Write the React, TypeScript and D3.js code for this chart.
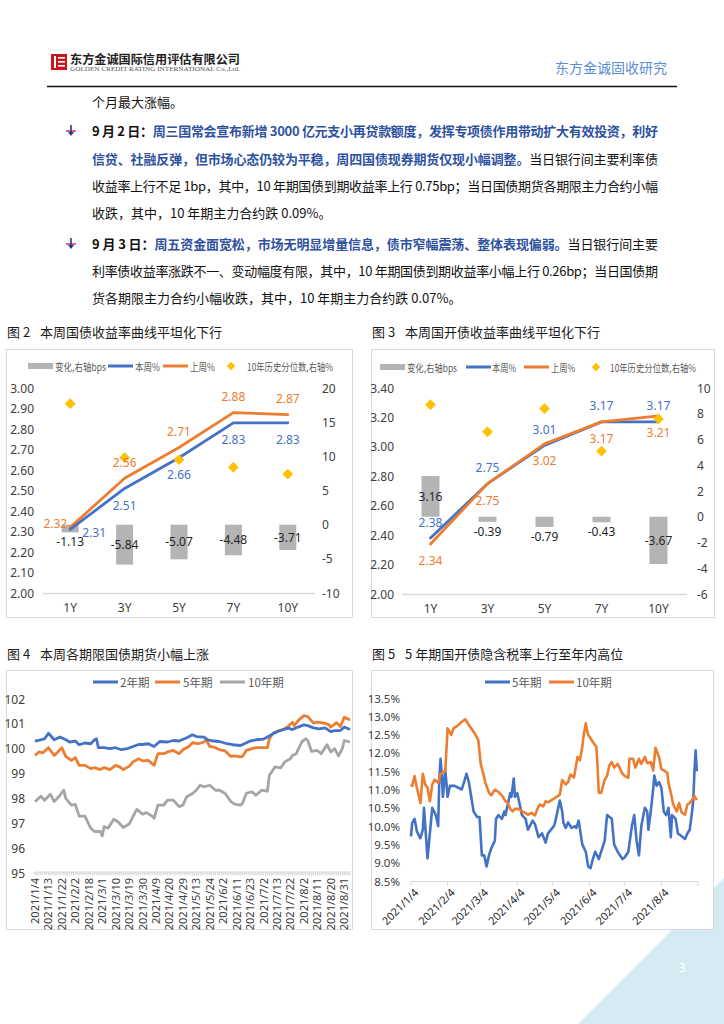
import React from "react";
import * as d3 from "d3";

const CJK = '"Noto Sans CJK SC", "Noto Sans", sans-serif';
const NUM = '"Noto Sans", "Noto Sans CJK SC", sans-serif';
const BLUE = "#4472c4";
const ORANGE = "#ed7d31";
const GRAY = "#a5a5a5";
const BARGRAY = "#b4b4b4";
const GOLD = "#ffc000";
const AXIS = "#d9d9d9";

// ---------- Figure 2 / 3 data ----------
const tenors = ["1Y", "3Y", "5Y", "7Y", "10Y"];
const govChange = [-1.13, -5.84, -5.07, -4.48, -3.71];
const govThisWeek = [2.31, 2.51, 2.66, 2.83, 2.83];
const govLastWeek = [2.32, 2.56, 2.71, 2.88, 2.87];
const govPercentile = [17.7, 9.8, 9.5, 8.4, 7.4];

const cdbChange = [3.16, -0.39, -0.79, -0.43, -3.67];
const cdbThisWeek = [2.38, 2.75, 3.01, 3.17, 3.17];
const cdbLastWeek = [2.34, 2.75, 3.02, 3.17, 3.21];
const cdbPercentile = [8.7, 6.6, 8.4, 5.1, 7.6];

const curveLegend = ["变化,右轴bps", "本周%", "上周%", "10年历史分位数,右轴%"];

// ---------- Figure 4 data (trading-day index, price) ----------
const futTickLabels = ["2021/1/4", "2021/1/13", "2021/1/22", "2021/2/2", "2021/2/18", "2021/3/1", "2021/3/10", "2021/3/19", "2021/3/30", "2021/4/9", "2021/4/20", "2021/4/29", "2021/5/13", "2021/5/24", "2021/6/2", "2021/6/11", "2021/6/23", "2021/7/2", "2021/7/13", "2021/7/22", "2021/8/2", "2021/8/11", "2021/8/20", "2021/8/31"];
const futLabelStep = 7;
const futDayCount = 165;
const futSeriesNames = ["2年期", "5年期", "10年期"];
const fut2y: [number, number][] = [[0,100.31],[3,100.36],[5,100.4],[7,100.62],[10,100.36],[13,100.47],[16,100.36],[18,100.27],[21,100.31],[23,100.16],[26,100.23],[29,100.2],[31,100.36],[32,100.4],[33,100.04],[36,100.04],[39,100.0],[42,100.04],[45,99.96],[48,100.0],[51,100.09],[54,100.17],[56,100.17],[59,100.2],[62,100.09],[65,100.29],[69,100.27],[72,100.33],[75,100.31],[79,100.44],[82,100.56],[84,100.49],[88,100.47],[90,100.36],[93,100.31],[96,100.29],[100,100.2],[103,100.16],[107,100.13],[109,100.2],[112,100.31],[115,100.36],[119,100.39],[121,100.47],[124,100.6],[127,100.71],[129,100.77],[132,100.83],[134,100.77],[137,100.87],[140,100.96],[142,100.93],[145,100.84],[148,100.8],[151,100.84],[154,100.69],[156,100.73],[159,100.73],[161,100.87],[164,100.77]];
const fut5y: [number, number][] = [[0,99.73],[2,99.87],[4,99.83],[7,100.04],[10,99.73],[11,99.8],[14,100.04],[16,99.69],[19,99.53],[21,99.64],[23,99.33],[26,99.33],[29,99.2],[31,99.24],[34,99.16],[36,99.24],[39,99.16],[42,99.33],[44,99.27],[46,99.16],[49,99.29],[51,99.47],[54,99.6],[56,99.51],[59,99.53],[62,99.33],[64,99.8],[67,99.8],[69,99.87],[72,99.93],[75,99.8],[77,99.96],[80,100.09],[82,100.24],[85,100.2],[88,100.27],[89,100.37],[91,100.09],[94,100.04],[96,99.96],[99,99.91],[102,99.69],[104,99.71],[107,99.67],[108,99.69],[110,99.93],[113,100.0],[115,100.04],[118,100.04],[121,100.04],[122,100.4],[124,100.63],[127,100.73],[129,100.76],[132,100.91],[134,101.07],[135,100.93],[137,101.13],[140,101.33],[142,101.29],[145,101.03],[147,101.07],[150,101.04],[153,100.97],[154,100.87],[157,101.05],[159,100.89],[161,101.27],[164,101.16]];
const fut10y: [number, number][] = [[0,97.87],[3,98.09],[5,97.93],[8,98.17],[10,97.87],[13,98.13],[15,98.33],[16,98.0],[19,97.73],[21,97.76],[23,97.29],[26,97.29],[29,96.8],[31,96.67],[34,96.67],[35,96.49],[36,96.87],[38,96.8],[41,97.16],[43,97.07],[46,96.83],[49,96.97],[51,97.27],[53,97.56],[56,97.37],[58,97.43],[61,97.29],[62,97.2],[64,97.73],[67,97.73],[69,97.93],[72,97.93],[75,97.67],[77,97.73],[79,98.07],[82,98.2],[84,98.33],[86,98.53],[88,98.47],[91,98.53],[94,98.33],[96,98.33],[99,98.2],[102,97.87],[104,97.77],[107,97.73],[108,97.8],[110,98.2],[113,98.27],[115,98.13],[118,98.33],[121,98.29],[122,98.93],[125,99.27],[128,99.23],[130,99.47],[133,99.6],[134,99.73],[136,99.8],[139,100.29],[141,100.4],[142,100.33],[144,99.89],[147,99.93],[149,99.8],[152,100.16],[154,99.87],[156,100.0],[158,99.71],[160,100.0],[161,100.33],[164,100.27]];
const futYTicks = [95, 96, 97, 98, 99, 100, 101, 102];

// ---------- Figure 5 data (date, implied tax rate %) ----------
const taxSeriesNames = ["5年期", "10年期"];
const taxTickDates = ["2021-01-04", "2021-02-04", "2021-03-04", "2021-04-04", "2021-05-04", "2021-06-04", "2021-07-04", "2021-08-04"];
const taxAxisEnd = "2021-09-04";
const taxYTicks = [8.5, 9.0, 9.5, 10.0, 10.5, 11.0, 11.5, 12.0, 12.5, 13.0, 13.5];
const tax5y: [string, number][] = [["2021-01-04",9.72],["2021-01-05",10.08],["2021-01-07",10.2],["2021-01-09",9.86],["2021-01-11",9.72],["2021-01-12",9.67],["2021-01-14",9.9],["2021-01-15",10.5],["2021-01-18",9.12],["2021-01-22",10.5],["2021-01-25",10.3],["2021-01-27",10.0],["2021-01-28",11.3],["2021-01-29",11.84],["2021-01-30",11.4],["2021-01-31",10.8],["2021-02-02",11.55],["2021-02-04",10.8],["2021-02-06",11.1],["2021-02-10",11.1],["2021-02-16",11.0],["2021-02-20",11.43],["2021-02-22",11.2],["2021-02-26",10.4],["2021-03-01",10.25],["2021-03-03",10.25],["2021-03-05",9.2],["2021-03-07",9.2],["2021-03-09",8.9],["2021-03-11",9.2],["2021-03-13",9.4],["2021-03-16",9.6],["2021-03-17",10.2],["2021-03-19",10.3],["2021-03-22",10.2],["2021-03-24",10.4],["2021-03-25",10.3],["2021-03-27",10.6],["2021-03-29",10.9],["2021-03-30",10.8],["2021-04-01",11.3],["2021-04-02",10.8],["2021-04-04",10.9],["2021-04-08",10.3],["2021-04-11",10.2],["2021-04-13",9.9],["2021-04-17",10.15],["2021-04-19",10.05],["2021-04-22",9.7],["2021-04-25",9.8],["2021-04-28",9.55],["2021-04-30",9.8],["2021-05-05",10.0],["2021-05-06",10.1],["2021-05-10",10.7],["2021-05-12",10.4],["2021-05-13",10.1],["2021-05-15",9.95],["2021-05-17",10.1],["2021-05-20",9.95],["2021-05-23",10.0],["2021-05-24",9.95],["2021-05-26",10.15],["2021-05-29",9.5],["2021-06-01",9.3],["2021-06-03",8.9],["2021-06-05",8.85],["2021-06-07",9.1],["2021-06-09",9.3],["2021-06-12",9.1],["2021-06-14",9.3],["2021-06-17",9.6],["2021-06-19",10.3],["2021-06-23",10.2],["2021-06-25",9.5],["2021-06-28",9.3],["2021-07-02",9.1],["2021-07-04",9.15],["2021-07-07",9.3],["2021-07-10",10.0],["2021-07-12",10.3],["2021-07-14",9.6],["2021-07-16",9.2],["2021-07-18",10.0],["2021-07-21",10.5],["2021-07-23",10.4],["2021-07-24",9.9],["2021-07-26",10.4],["2021-07-28",11.0],["2021-07-29",11.38],["2021-07-31",11.1],["2021-08-02",11.2],["2021-08-04",11.05],["2021-08-06",10.4],["2021-08-08",10.3],["2021-08-10",10.5],["2021-08-12",9.7],["2021-08-13",10.3],["2021-08-16",10.2],["2021-08-18",9.8],["2021-08-20",9.75],["2021-08-22",9.7],["2021-08-24",9.65],["2021-08-26",9.8],["2021-08-28",9.9],["2021-08-30",10.4],["2021-08-31",10.7],["2021-09-01",11.5],["2021-09-02",12.07],["2021-09-03",11.5]];
const tax10y: [string, number][] = [["2021-01-04",11.14],["2021-01-05",11.1],["2021-01-07",11.37],["2021-01-09",11.05],["2021-01-11",10.77],["2021-01-12",10.63],["2021-01-14",11.43],["2021-01-16",11.14],["2021-01-18",11.05],["2021-01-20",10.68],["2021-01-22",11.14],["2021-01-24",11.27],["2021-01-27",11.18],["2021-01-29",11.43],["2021-01-31",11.46],["2021-02-02",11.5],["2021-02-04",12.67],["2021-02-05",12.62],["2021-02-07",12.49],["2021-02-09",12.67],["2021-02-13",12.76],["2021-02-16",12.85],["2021-02-19",12.92],["2021-02-22",12.76],["2021-02-24",12.67],["2021-02-27",12.53],["2021-03-02",12.35],["2021-03-04",11.7],["2021-03-06",11.46],["2021-03-08",11.18],["2021-03-11",10.91],["2021-03-13",10.84],["2021-03-16",11.0],["2021-03-19",10.93],["2021-03-22",10.84],["2021-03-25",10.68],["2021-03-27",10.63],["2021-03-29",10.47],["2021-03-31",10.4],["2021-04-02",10.47],["2021-04-05",10.47],["2021-04-08",10.4],["2021-04-11",10.36],["2021-04-13",10.31],["2021-04-16",10.36],["2021-04-19",10.29],["2021-04-21",10.47],["2021-04-23",10.59],["2021-04-26",10.54],["2021-04-28",10.68],["2021-04-30",10.65],["2021-05-03",10.71],["2021-05-06",10.77],["2021-05-10",10.86],["2021-05-12",11.26],["2021-05-15",11.14],["2021-05-17",11.2],["2021-05-19",11.41],["2021-05-22",11.33],["2021-05-23",11.52],["2021-05-25",11.89],["2021-05-27",11.8],["2021-05-29",12.16],["2021-05-30",12.44],["2021-06-01",12.81],["2021-06-02",12.62],["2021-06-03",12.5],["2021-06-07",12.3],["2021-06-10",12.16],["2021-06-11",11.6],["2021-06-12",10.91],["2021-06-14",10.91],["2021-06-17",11.27],["2021-06-19",11.37],["2021-06-21",11.66],["2021-06-23",11.75],["2021-06-25",11.6],["2021-06-28",11.7],["2021-07-02",11.43],["2021-07-04",11.37],["2021-07-07",11.32],["2021-07-08",11.84],["2021-07-11",11.84],["2021-07-13",11.6],["2021-07-16",11.84],["2021-07-18",11.7],["2021-07-21",11.89],["2021-07-23",11.72],["2021-07-26",11.75],["2021-07-28",11.52],["2021-07-30",12.14],["2021-08-02",11.89],["2021-08-04",11.56],["2021-08-06",11.52],["2021-08-09",11.46],["2021-08-10",11.18],["2021-08-12",10.91],["2021-08-14",10.59],["2021-08-17",10.4],["2021-08-19",10.63],["2021-08-21",10.38],["2021-08-24",10.31],["2021-08-26",10.59],["2021-08-28",10.63],["2021-08-31",10.77],["2021-09-01",10.82],["2021-09-03",10.71]];

// ---------- Text ----------
type Seg = { t: string; s: "n" | "b" | "blue" };
const bodyLines: { segs: Seg[]; justify: boolean; bullet?: boolean }[] = [
  { segs: [{ t: "9 月 2 日：", s: "b" }, { t: "周三国常会宣布新增 3000 亿元支小再贷款额度，发挥专项债作用带动扩大有效投资，利好", s: "blue" }], justify: true, bullet: true },
  { segs: [{ t: "信贷、社融反弹，但市场心态仍较为平稳，周四国债现券期货仅现小幅调整。", s: "blue" }, { t: "当日银行间主要利率债", s: "n" }], justify: true },
  { segs: [{ t: "收益率上行不足 1bp，其中，10 年期国债到期收益率上行 0.75bp；当日国债期货各期限主力合约小幅", s: "n" }], justify: true },
  { segs: [{ t: "收跌，其中，10 年期主力合约跌 0.09%。", s: "n" }], justify: false },
  { segs: [{ t: "9 月 3 日：", s: "b" }, { t: "周五资金面宽松，市场无明显增量信息，债市窄幅震荡、整体表现偏弱。", s: "blue" }, { t: "当日银行间主要", s: "n" }], justify: true, bullet: true },
  { segs: [{ t: "利率债收益率涨跌不一、变动幅度有限，其中，10 年期国债到期收益率小幅上行 0.26bp；当日国债期", s: "n" }], justify: true },
  { segs: [{ t: "货各期限主力合约小幅收跌，其中，10 年期主力合约跌 0.07%。", s: "n" }], justify: false },
];
const bodyLineY = [136, 164, 191, 218, 249, 276, 303];

function Header() {
  return (
    <g>
      <rect x={51} y={54} width={16} height={16} fill="#c8161d" />
      <rect x={54} y={56} width={2} height={12} fill="#fff" />
      <rect x={58} y={57} width={7} height={1.6} fill="#fff" />
      <rect x={58} y={61} width={7} height={1.6} fill="#fff" />
      <rect x={58} y={65} width={7} height={1.6} fill="#fff" />
      <text x={70} y={64} fontFamily={CJK} fontSize={12} fontWeight={700} fill="#222" textLength={170} lengthAdjust="spacingAndGlyphs">东方金诚国际信用评估有限公司</text>
      <text x={70} y={70.5} fontFamily="'Liberation Serif', serif" fontSize={5.5} fill="#555" textLength={170} lengthAdjust="spacingAndGlyphs">GOLDEN CREDIT RATING INTERNATIONAL Co.,Ltd.</text>
      <text x={667} y={73} textAnchor="end" fontFamily={CJK} fontSize={14} fill="#5b8ed6">东方金诚固收研究</text>
      <line x1={47} x2={677} y1={86.5} y2={86.5} stroke="#111" strokeWidth={1.5} />
    </g>
  );
}

function Bullet({ x, y }: { x: number; y: number }) {
  return (
    <g>
      <line x1={x} x2={x + 10} y1={y} y2={y} stroke="#e8608c" strokeWidth={2} />
      <line x1={x + 5} x2={x + 5} y1={y - 6} y2={y + 2} stroke="#1f3c88" strokeWidth={1.6} />
      <path d={`M${x + 2},${y + 1}L${x + 8},${y + 1}L${x + 5},${y + 5}Z`} fill="#1f3c88" />
    </g>
  );
}

function Body() {
  return (
    <g fontFamily={CJK} fontSize={13}>
      <text x={92} y={107} fill="#111">个月最大涨幅。</text>
      {bodyLines.map((ln, i) => (
        <g key={i}>
          {ln.bullet && <Bullet x={66} y={bodyLineY[i] - 5} />}
          <text x={92} y={bodyLineY[i]} {...(ln.justify ? { textLength: 566, lengthAdjust: "spacing" } : {})}>
            {ln.segs.map((s, j) => (
              <tspan key={j} fill={s.s === "blue" ? "#2f52a0" : "#111"} fontWeight={s.s === "n" ? 400 : 700}>{s.t}</tspan>
            ))}
          </text>
        </g>
      ))}
    </g>
  );
}

function FigTitle({ x, y, num, title }: { x: number; y: number; num: string; title: string }) {
  return (
    <g fontFamily={CJK} fontSize={13} fill="#1a1a1a">
      <text x={x} y={y}>{num}</text>
      <text x={x + 33} y={y}>{title}</text>
    </g>
  );
}

type LabelPos = "above" | "below" | "left" | "right";
interface CurveCfg {
  box: [number, number, number, number];
  x0: number; x1: number; yTop: number; yBot: number;
  lDomain: [number, number]; lTicks: number[];
  rDomain: [number, number]; rTicks: number[];
  leftLabelX: number; rightLabelX: number; barW: number;
  change: number[]; thisWeek: number[]; lastWeek: number[]; pct: number[];
  thisPos: LabelPos[]; lastPos: LabelPos[];
  legendY: number; legendX: { sw: number; tx: number; w: number }[];
  lastOnTop: boolean;
}

function CurveChart({ c }: { c: CurveCfg }) {
  const x = d3.scaleBand<string>().domain(tenors).range([c.x0, c.x1]);
  const cx = (i: number) => (x(tenors[i]) as number) + x.bandwidth() / 2;
  const yL = d3.scaleLinear().domain(c.lDomain).range([c.yBot, c.yTop]);
  const yR = d3.scaleLinear().domain(c.rDomain).range([c.yBot, c.yTop]);
  const line = d3.line<number>().x((_, i) => cx(i)).y((v) => yL(v));
  const label = (v: number, i: number, pos: LabelPos, color: string) => {
    const px = cx(i), py = yL(v);
    let tx = px, ty = py, anchor = "middle";
    if (pos === "above") ty = py - 16;
    if (pos === "below") ty = py + 17;
    if (pos === "left") { tx = px - 3; ty = py - 4; anchor = "end"; }
    if (pos === "right") { tx = px + 12; ty = py + 3; anchor = "start"; }
    return <text key={`${color}${i}`} x={tx} y={ty} textAnchor={anchor} dominantBaseline="central" fill={color} fontSize={12}>{v.toFixed(2)}</text>;
  };
  const lines = [
    { d: c.thisWeek, color: BLUE },
    { d: c.lastWeek, color: ORANGE },
  ];
  if (!c.lastOnTop) lines.reverse();
  const [bx, by, bw, bh] = c.box;
  return (
    <g fontFamily={NUM}>
      <rect x={bx + 0.5} y={by + 0.5} width={bw} height={bh} fill="#fff" stroke={AXIS} />
      {/* legend */}
      <g fontFamily={CJK} fontSize={10} fill="#595959">
        <rect x={c.legendX[0].sw} y={c.legendY - 3} width={25} height={6} fill={BARGRAY} />
        <line x1={c.legendX[1].sw} x2={c.legendX[1].sw + 25} y1={c.legendY} y2={c.legendY} stroke={BLUE} strokeWidth={3} />
        <line x1={c.legendX[2].sw} x2={c.legendX[2].sw + 25} y1={c.legendY} y2={c.legendY} stroke={ORANGE} strokeWidth={3} />
        <rect x={c.legendX[3].sw - 3} y={c.legendY - 3} width={6} height={6} fill={GOLD} transform={`rotate(45 ${c.legendX[3].sw} ${c.legendY})`} />
        {curveLegend.map((t, i) => (
          <text key={t} x={c.legendX[i].tx} y={c.legendY} dominantBaseline="central" textLength={c.legendX[i].w} lengthAdjust="spacingAndGlyphs">{t}</text>
        ))}
      </g>
      {/* axes */}
      <line x1={c.x0} x2={c.x1} y1={c.yBot + 0.5} y2={c.yBot + 0.5} stroke={AXIS} strokeWidth={1.5} />
      <g fontSize={12} fill="#404040">
        {c.lTicks.map((t) => (
          <text key={`l${t}`} x={c.leftLabelX} y={yL(t)} textAnchor="end" dominantBaseline="central">{t.toFixed(2)}</text>
        ))}
        {c.rTicks.map((t) => (
          <text key={`r${t}`} x={c.rightLabelX} y={yR(t)} dominantBaseline="central">{t}</text>
        ))}
        {tenors.map((t, i) => (
          <text key={t} x={cx(i)} y={c.yBot + 14} textAnchor="middle" dominantBaseline="central">{t}</text>
        ))}
      </g>
      {/* bars */}
      {c.change.map((v, i) => {
        const y0 = yR(0), y1 = yR(v);
        return <rect key={`b${i}`} x={cx(i) - c.barW / 2} y={Math.min(y0, y1)} width={c.barW} height={Math.abs(y1 - y0)} fill={BARGRAY} />;
      })}
      {/* lines */}
      {lines.map((l) => (
        <path key={l.color} d={line(l.d) as string} fill="none" stroke={l.color} strokeWidth={2.8} strokeLinejoin="round" strokeLinecap="round" />
      ))}
      {/* percentile diamonds */}
      {c.pct.map((v, i) => (
        <rect key={`p${i}`} x={cx(i) - 3.8} y={yR(v) - 3.8} width={7.6} height={7.6} fill={GOLD} transform={`rotate(45 ${cx(i)} ${yR(v)})`} />
      ))}
      {/* bar labels */}
      {c.change.map((v, i) => {
        const y0 = yR(0), y1 = yR(v);
        const h = Math.abs(y1 - y0);
        const ty = h > 14 ? (y0 + y1) / 2 : v < 0 ? y1 + 9.5 : y1 - 9.5;
        return <text key={`bl${i}`} x={cx(i)} y={ty} textAnchor="middle" dominantBaseline="central" fontSize={12} fill="#262626">{v.toFixed(2)}</text>;
      })}
      {c.thisWeek.map((v, i) => label(v, i, c.thisPos[i], BLUE))}
      {c.lastWeek.map((v, i) => label(v, i, c.lastPos[i], ORANGE))}
    </g>
  );
}

const govCfg: CurveCfg = {
  box: [6, 349, 346, 268],
  x0: 43, x1: 315, yTop: 388, yBot: 593,
  lDomain: [2.0, 3.0], lTicks: d3.range(0, 11).map((k) => 2 + k * 0.1),
  rDomain: [-10, 20], rTicks: [-10, -5, 0, 5, 10, 15, 20],
  leftLabelX: 34, rightLabelX: 322, barW: 17,
  change: govChange, thisWeek: govThisWeek, lastWeek: govLastWeek, pct: govPercentile,
  thisPos: ["right", "below", "below", "below", "below"],
  lastPos: ["left", "above", "above", "above", "above"],
  legendY: 366, legendX: [{ sw: 28, tx: 55, w: 51 }, { sw: 108, tx: 135, w: 25 }, { sw: 163, tx: 190, w: 25 }, { sw: 231, tx: 247, w: 86 }],
  lastOnTop: false,
};

const cdbCfg: CurveCfg = {
  box: [371, 349, 343, 268],
  x0: 402, x1: 687, yTop: 388, yBot: 594,
  lDomain: [2.0, 3.4], lTicks: d3.range(0, 8).map((k) => 2 + k * 0.2),
  rDomain: [-6, 10], rTicks: [-6, -4, -2, 0, 2, 4, 6, 8, 10],
  leftLabelX: 394, rightLabelX: 697, barW: 18,
  change: cdbChange, thisWeek: cdbThisWeek, lastWeek: cdbLastWeek, pct: cdbPercentile,
  thisPos: ["above", "above", "above", "above", "above"],
  lastPos: ["below", "below", "below", "below", "below"],
  legendY: 367, legendX: [{ sw: 380, tx: 407, w: 50 }, { sw: 466, tx: 492, w: 24 }, { sw: 524, tx: 551, w: 24 }, { sw: 596, tx: 610, w: 86 }],
  lastOnTop: true,
};

function FuturesChart() {
  const x = d3.scaleLinear().domain([0, futDayCount - 1]).range([35, 350]);
  const y = d3.scaleLinear().domain([95, 102]).range([873, 699]);
  const line = d3.line<[number, number]>().x((d) => x(d[0])).y((d) => y(d[1]));
  const series = [
    { d: fut2y, color: BLUE },
    { d: fut5y, color: ORANGE },
    { d: fut10y, color: GRAY },
  ];
  const legendX = [{ sw: 93, tx: 120 }, { sw: 155, tx: 183 }, { sw: 220, tx: 248 }];
  return (
    <g fontFamily={NUM}>
      <rect x={6.5} y={670.5} width={346} height={259} fill="#fff" stroke={AXIS} />
      <g fontFamily={CJK} fontSize={11.5} fill="#595959">
        {futSeriesNames.map((n, i) => (
          <g key={n}>
            <line x1={legendX[i].sw} x2={legendX[i].sw + 25} y1={682} y2={682} stroke={series[i].color} strokeWidth={3} />
            <text x={legendX[i].tx} y={682} dominantBaseline="central">{n}</text>
          </g>
        ))}
      </g>
      <g fontSize={12} fill="#404040">
        {futYTicks.map((t) => (
          <text key={t} x={25} y={y(t)} textAnchor="end" dominantBaseline="central">{t}</text>
        ))}
      </g>
      <line x1={33} x2={350} y1={873} y2={873} stroke={AXIS} strokeWidth={1} />
      {d3.range(futDayCount).map((i) => (
        <line key={i} x1={x(i)} x2={x(i)} y1={871} y2={875.5} stroke={AXIS} strokeWidth={1} />
      ))}
      <g fontSize={11} fill="#404040">
        {futTickLabels.map((t, k) => (
          <text key={t} transform={`translate(${x(k * futLabelStep) + 4},878) rotate(-90)`} textAnchor="end">{t}</text>
        ))}
      </g>
      {series.slice().reverse().map((s) => (
        <path key={s.color} d={line(s.d) as string} fill="none" stroke={s.color} strokeWidth={2.8} strokeLinejoin="round" />
      ))}
    </g>
  );
}

function TaxChart() {
  const parse = d3.timeParse("%Y-%m-%d");
  const x = d3.scaleTime().domain([parse(taxTickDates[0]) as Date, parse(taxAxisEnd) as Date]).range([411, 698]);
  const y = d3.scaleLinear().domain([8.5, 13.5]).range([881, 698]);
  const line = d3.line<[string, number]>().x((d) => x(parse(d[0]) as Date)).y((d) => y(d[1]));
  const fmt = d3.timeFormat("%Y/%-m/%-d");
  const series = [
    { d: tax5y, color: BLUE },
    { d: tax10y, color: ORANGE },
  ];
  const legendX = [{ sw: 485, tx: 512 }, { sw: 549, tx: 576 }];
  return (
    <g fontFamily={NUM}>
      <rect x={371.5} y={670.5} width={342} height={259} fill="#fff" stroke={AXIS} />
      <g fontFamily={CJK} fontSize={11.5} fill="#595959">
        {taxSeriesNames.map((n, i) => (
          <g key={n}>
            <line x1={legendX[i].sw} x2={legendX[i].sw + 25} y1={682} y2={682} stroke={series[i].color} strokeWidth={3} />
            <text x={legendX[i].tx} y={682} dominantBaseline="central">{n}</text>
          </g>
        ))}
      </g>
      <g fontSize={11.5} fill="#404040">
        {taxYTicks.map((t) => (
          <text key={t} x={400} y={y(t)} textAnchor="end" dominantBaseline="central">{t.toFixed(1) + "%"}</text>
        ))}
      </g>
      <line x1={411} x2={698} y1={881.5} y2={881.5} stroke={AXIS} strokeWidth={1.2} />
      {[...taxTickDates, taxAxisEnd].map((d) => (
        <line key={d} x1={x(parse(d) as Date)} x2={x(parse(d) as Date)} y1={881} y2={886} stroke={AXIS} />
      ))}
      <g fontSize={11} fill="#262626">
        {taxTickDates.map((d) => {
          const px = x(parse(d) as Date);
          return <text key={d} transform={`translate(${px + 5},890) rotate(-45)`} textAnchor="end" dominantBaseline="central">{fmt(parse(d) as Date)}</text>;
        })}
      </g>
      {series.map((s) => (
        <path key={s.color} d={line(s.d) as string} fill="none" stroke={s.color} strokeWidth={2.6} strokeLinejoin="round" />
      ))}
    </g>
  );
}

export default function App() {
  return (
    <div style={{ position: "absolute", left: 0, top: 0, width: 724, height: 1024 }}>
      <svg width={724} height={1024} style={{ display: "block" }}>
        <rect width={724} height={1024} fill="#fff" />
        <polygon points="724,878 724,1024 578,1024" fill="#d5eaf2" />
        <Header />
        <Body />
        <FigTitle x={7} y={337} num="图 2" title="本周国债收益率曲线平坦化下行" />
        <FigTitle x={372} y={337} num="图 3" title="本周国开债收益率曲线平坦化下行" />
        <FigTitle x={7} y={659} num="图 4" title="本周各期限国债期货小幅上涨" />
        <FigTitle x={372} y={659} num="图 5" title="5 年期国开债隐含税率上行至年内高位" />
        <CurveChart c={govCfg} />
        <CurveChart c={cdbCfg} />
        <FuturesChart />
        <TaxChart />
        <text x={682} y={972} fill="#fff" fontFamily={NUM} fontSize={13} textAnchor="middle">3</text>
      </svg>
    </div>
  );
}
